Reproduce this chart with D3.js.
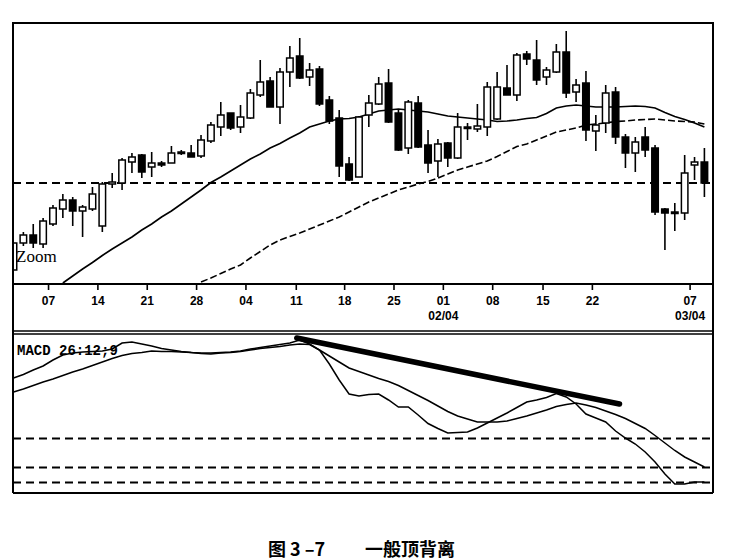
<!DOCTYPE html>
<html><head><meta charset="utf-8">
<script src="https://cdn.jsdelivr.net/npm/d3@7"></script>
<style>html,body{margin:0;padding:0;background:#fff;}svg{display:block;}</style>
</head><body>
<svg id="c" width="742" height="560"></svg>
<script>
// ---- data (levels) ----
const openV  = [14,41,49,40,60,75,84,73,75,58,100,101,122,129,117,121,121,132,131,128,143,157,171,157,166,189,203,177,212,228,207,215,184,166,120,107,169,180,201,171,136,181,139,123,141,126,157,155,157,165,196,189,230,224,207,212,232,192,201,153,161,192,147,131,147,136,75,72,71,119,122];
const highV  = [41,52,60,66,79,90,87,79,97,102,111,126,131,130,132,123,138,134,139,149,162,182,171,179,195,224,207,216,238,246,221,218,188,174,127,168,189,207,215,174,184,188,154,145,142,171,161,180,202,212,219,231,233,244,217,240,253,205,213,169,199,197,150,147,157,139,76,81,129,127,136];
const lowV   = [14,38,36,36,58,66,58,47,73,52,96,94,111,106,107,117,121,129,127,126,141,148,154,151,165,187,177,160,197,205,198,178,160,107,103,107,157,179,161,133,130,136,111,107,117,125,144,152,148,164,189,183,219,199,199,211,186,182,143,133,151,140,116,112,127,69,34,53,64,104,87];
const closeV = [41,49,41,63,76,84,73,77,90,100,102,124,127,112,121,119,131,131,127,144,159,169,156,167,191,202,177,212,226,206,214,180,163,118,104,167,181,200,162,134,182,137,121,140,126,157,156,158,197,197,189,229,225,204,214,232,191,199,154,159,191,147,131,142,134,72,71,71,111,122,101];
const maShort = [null,null,null,null,null,1,8,15,21.5,28.5,35,41,47,54,60,67,73,80,87,94,101.5,107,113,119,125,130,136,140.5,146,151,157,160,163,165,165.5,167,170,173,174,175,174,173,172,170,168,167,166,165,164,162.5,163,164,165.5,166.5,170.5,176,178,179,178,177,177,177,177.5,178,177.5,176,171.5,167.5,164.5,161,157];
const maLong  = [null,null,null,null,null,null,null,null,null,null,null,null,null,null,null,null,null,null,null,2,6,10.5,15,19,26,32.5,39,44,47.5,51,55,59,63,67,72,77,82,86,90,94,97,100,102.5,106,110,114,117,120,123,127.5,132.5,137.5,140,144,148,152,154,156,159,160,161,162.5,163,164,164.5,165,164,163,162.5,162,160];
const macdDif = [115,118.5,123,127,133,138,140,141,141.5,142,144,150,151,149,147,144.5,143,141.5,140.5,140,140,140.5,141,142,144,145.5,147,148.5,150,153,149,143,129,113,99,97,98.5,99,93,86,86,78,69.5,64.5,60,60.5,61,65,70,75,80,85.5,91,93,95.5,99.5,96,89,79,75,71,62,55,49,41,31,19,9,9,11,11];
const macdDea = [101,104,107.5,111,114,117.5,121,124,127.5,131,134.5,137.5,139.5,140.5,142,141.5,141.5,141,140.5,139.5,139,140,140.5,141.5,143,144.5,145.5,146.5,148,149,148.5,143,137,131,125,121.5,118,114.5,111.5,107.5,102.5,97.5,92.5,87,81.5,77,74,71,71,71,72,74.5,77,80,83,86.5,88.5,90,88,85.5,82,78.5,74.5,69.5,64.5,57.5,50,42.5,36,31,26];
const trendLine = [[28.7,155],[61.4,89]];
const priceRefLevel = 101;
const macdRefLevels = [54.5,25.5,10.5];
const tickPos    = [3.5,8.5,13.5,18.5,23.5,28.6,33.5,38.5,43.5,48.5,53.6,58.6,68.5];
const tickLabels = ["07","14","21","28","04","11","18","25","01","08","15","22","07"];
const tickSub    = ["","","","","","","","","02/04","","","","03/04"];
const macdTitle = "MACD 26:12;9";
const zoomText = "Zoom";
const captionA = "图 3 –7";
const captionB = "一般顶背离";

// ---- layout ----
const L = 13, R = 713, T = 23, B1 = 284, M1 = 334, B2 = 493;
const svg = d3.select("#c");
const x = d3.scaleLinear().domain([0,70]).range([13.5,704.4]);
const y = d3.scaleLinear().domain([0,261]).range([B1,T]);
const ym = d3.scaleLinear().domain([0,159]).range([B2,M1]);

const defs = svg.append("defs");
defs.append("clipPath").attr("id","cp1").append("rect").attr("x",L).attr("y",T).attr("width",R-L).attr("height",B1-T);
defs.append("clipPath").attr("id","cp2").append("rect").attr("x",L).attr("y",M1).attr("width",R-L).attr("height",B2-M1);

const g1 = svg.append("g").attr("clip-path","url(#cp1)");
g1.append("line").attr("x1",L).attr("x2",R).attr("y1",y(priceRefLevel)).attr("y2",y(priceRefLevel))
  .attr("stroke","#000").attr("stroke-width",2).attr("stroke-dasharray","8,5");

const lineP = d3.line().defined(d=>d[1]!=null).x(d=>x(d[0])).y(d=>y(d[1]));
g1.append("path").attr("d", lineP(maShort.map((v,i)=>[i,v]))).attr("fill","none").attr("stroke","#000").attr("stroke-width",1.6);
g1.append("path").attr("d", lineP(maLong.map((v,i)=>[i,v]))).attr("fill","none").attr("stroke","#000").attr("stroke-width",1.6).attr("stroke-dasharray","7,3");

const bw = 6.5;
const cg = g1.selectAll("g.c").data(openV.map((o,i)=>({i,o,h:highV[i],l:lowV[i],c:closeV[i]}))).join("g");
cg.append("line").attr("x1",d=>x(d.i)).attr("x2",d=>x(d.i)).attr("y1",d=>y(d.h)).attr("y2",d=>y(d.l))
  .attr("stroke","#000").attr("stroke-width",1.6);
cg.append("rect").attr("x",d=>x(d.i)-bw/2).attr("width",bw)
  .attr("y",d=>y(Math.max(d.o,d.c)))
  .attr("height",d=>Math.max(1.5,Math.abs(y(d.o)-y(d.c))))
  .attr("fill",d=>d.c>=d.o?"#fff":"#000").attr("stroke","#000").attr("stroke-width",1.5);

svg.append("text").attr("x",16).attr("y",262).text(zoomText)
  .attr("font-family","'Liberation Serif',serif").attr("font-size",17).attr("fill","#000");

const fr = svg.append("g").attr("stroke","#000").attr("fill","none");
fr.append("rect").attr("x",L).attr("y",T).attr("width",R-L).attr("height",B1-T).attr("stroke-width",2);
fr.append("line").attr("x1",L).attr("x2",L).attr("y1",B1).attr("y2",B2).attr("stroke-width",2);
fr.append("line").attr("x1",R).attr("x2",R).attr("y1",B1).attr("y2",B2).attr("stroke-width",2);
fr.append("line").attr("x1",L).attr("x2",R).attr("y1",331).attr("y2",331).attr("stroke-width",1.5);
fr.append("line").attr("x1",L).attr("x2",R).attr("y1",M1).attr("y2",M1).attr("stroke-width",1.5);
fr.append("line").attr("x1",L).attr("x2",R).attr("y1",B2).attr("y2",B2).attr("stroke-width",2);

const ax = d3.axisBottom(x).tickValues(tickPos).tickSize(6).tickFormat((d,i)=>tickLabels[i]);
const axg = svg.append("g").attr("transform",`translate(0,${B1})`).call(ax);
axg.select(".domain").remove();
axg.selectAll(".tick line").attr("stroke","#000").attr("stroke-width",1.6);
axg.selectAll(".tick text").attr("y",12).attr("dy","0.71em")
  .attr("font-family","'Liberation Sans',Arial,sans-serif").attr("font-weight","bold").attr("font-size",12).attr("fill","#000");
axg.selectAll(".tick").append("text").text((d,i)=>tickSub[i]).attr("y",36).attr("text-anchor","middle")
  .attr("font-family","'Liberation Sans',Arial,sans-serif").attr("font-weight","bold").attr("font-size",12).attr("fill","#000");

const g2 = svg.append("g").attr("clip-path","url(#cp2)");
macdRefLevels.forEach(v=>{
  g2.append("line").attr("x1",L).attr("x2",R).attr("y1",ym(v)).attr("y2",ym(v))
    .attr("stroke","#000").attr("stroke-width",2).attr("stroke-dasharray","8,5");
});
const lineM = d3.line().x(d=>x(d[0])).y(d=>ym(d[1]));
g2.append("path").attr("d",lineM(macdDea.map((v,i)=>[i,v]))).attr("fill","none").attr("stroke","#000").attr("stroke-width",1.5);
g2.append("path").attr("d",lineM(macdDif.map((v,i)=>[i,v]))).attr("fill","none").attr("stroke","#000").attr("stroke-width",1.5);
g2.append("path").attr("d",lineM(trendLine)).attr("fill","none").attr("stroke","#000").attr("stroke-width",5.5).attr("stroke-linecap","round");
svg.append("text").attr("x",17).attr("y",355).text(macdTitle)
  .attr("font-family","'Liberation Mono',monospace").attr("font-weight","bold").attr("font-size",14).attr("fill","#000");

svg.append("text").attr("x",268).attr("y",556).text(captionA)
  .attr("font-family","'Noto Sans CJK SC',sans-serif").attr("font-weight","bold").attr("font-size",18).attr("fill","#000");
svg.append("text").attr("x",365).attr("y",556).text(captionB)
  .attr("font-family","'Noto Sans CJK SC',sans-serif").attr("font-weight","bold").attr("font-size",18).attr("fill","#000");
</script>
</body></html>
